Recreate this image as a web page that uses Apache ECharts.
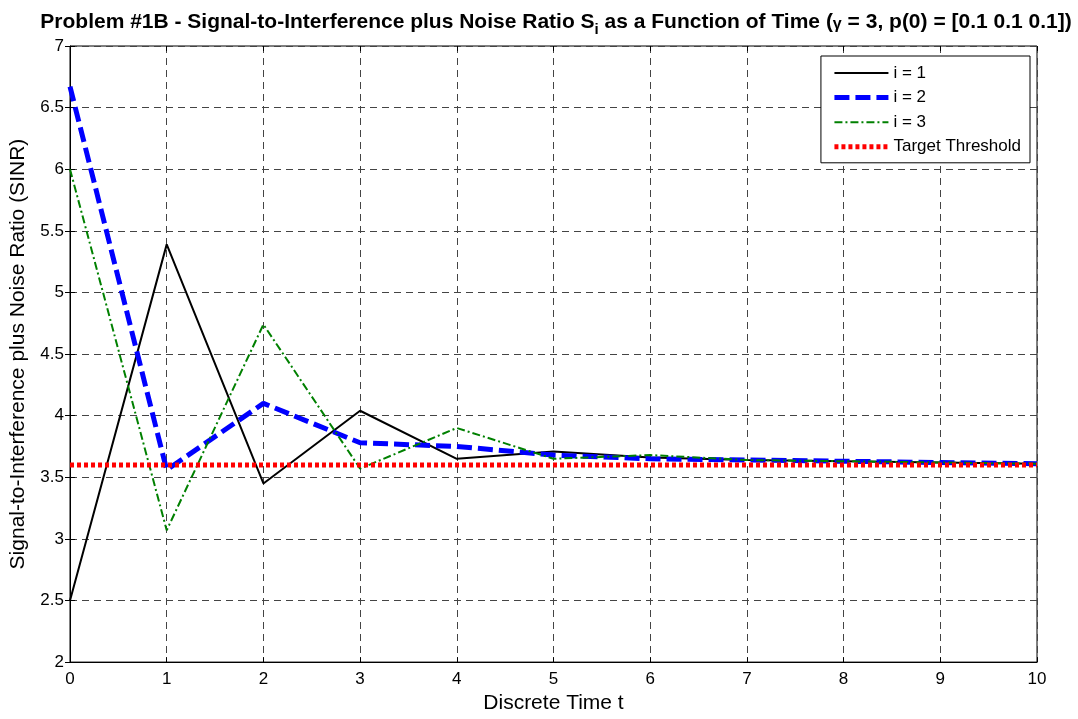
<!DOCTYPE html>
<html lang="en">
<head>
  <meta charset="UTF-8">
  <script src="https://cdn.jsdelivr.net/npm/echarts@6.0.0/dist/echarts.min.js"></script>
  <style>
    html, body { margin: 0; padding: 0; background: #fff; }
  </style>
</head>
<body>
  <div id="sinrChart" style="width: 1078px;height:719px;"></div>

  <script type="text/javascript">

    var times = [0, 1, 2, 3, 4, 5, 6, 7, 8, 9, 10];
    var sinr1 = [2.5, 5.39, 3.45, 4.04, 3.65, 3.71, 3.66, 3.64, 3.63, 3.62, 3.61];
    var sinr2 = [6.67, 3.56, 4.10, 3.78, 3.75, 3.68, 3.65, 3.64, 3.63, 3.62, 3.61];
    var sinr3 = [6.0, 3.07, 4.74, 3.57, 3.90, 3.65, 3.68, 3.64, 3.63, 3.62, 3.61];
    var threshold = [3.6, 3.6, 3.6, 3.6, 3.6, 3.6, 3.6, 3.6, 3.6, 3.6, 3.6];
    var seriesNames = ['i = 1', 'i = 2', 'i = 3', 'Target Threshold'];

    function pairs(values) {
      return values.map(function (v, k) { return [times[k], v]; });
    }

    var font = '"Liberation Sans", Arial, sans-serif';

    // line looks, shared by the series and their legend samples
    var looks = [
      { color: '#000', width: 2, type: 'solid' },
      { color: '#0000ff', width: 5, type: [15, 6] },
      { color: '#008000', width: 2, type: [8, 3, 2, 3] },
      { color: '#ff0000', width: 5, type: [4, 3] }
    ];

    function createSinrChart() {
      const chart = echarts.init(document.getElementById('sinrChart'));

      const hiddenAxis = {
        axisLine: { show: false },
        axisLabel: { show: false },
        splitLine: { show: false },
        axisTick: { show: true, inside: true, length: 5, lineStyle: { color: '#000' } }
      };

      let option = {
        backgroundColor: '#fff',
        animation: false,
        title: {
          text: 'Problem #1B - Signal-to-Interference plus Noise Ratio S{sub|i} as a Function of Time ({g|γ} = 3, p(0) = [0.1 0.1 0.1])',
          left: 551,
          textAlign: 'center',
          top: 3,
          textStyle: {
            fontFamily: font,
            fontWeight: 'bold',
            fontSize: 21,
            color: '#000',
            rich: {
              sub: { fontFamily: font, fontWeight: 'bold', fontSize: 15, color: '#000', padding: [14, 0, 0, 0] },
              g: { fontFamily: font, fontWeight: 'bold', fontSize: 16, color: '#000', padding: [4, 0, 0, 0] }
            }
          }
        },
        grid: {
          left: 70, right: 41, top: 46, bottom: 54,
          show: true,
          borderColor: '#000',
          borderWidth: 1
        },
        legend: {
          right: 48,
          top: 56,
          orient: 'vertical',
          align: 'left',
          backgroundColor: '#fff',
          borderColor: '#000',
          borderWidth: 1,
          padding: [8, 9, 7, 11],
          itemWidth: 54,
          itemHeight: 14,
          itemGap: 6.6,
          itemStyle: { opacity: 0 },
          textStyle: { fontFamily: font, fontSize: 17, lineHeight: 18, color: '#000' },
          data: seriesNames.map(function (n, k) {
            return { name: n, lineStyle: { width: looks[k].width, type: looks[k].type, color: looks[k].color } };
          })
        },
        xAxis: [{
          type: 'value',
          min: 0, max: 10, interval: 1,
          name: 'Discrete Time t',
          nameLocation: 'middle',
          nameGap: 30,
          nameTextStyle: { fontFamily: font, fontSize: 21, color: '#000' },
          axisLine: { show: true, lineStyle: { color: '#000' } },
          axisTick: { inside: true, length: 5, lineStyle: { color: '#000' } },
          axisLabel: { fontFamily: font, fontSize: 17, color: '#000', margin: 9 },
          splitLine: { show: true, lineStyle: { color: '#444', type: [7, 5], width: 1 } }
        }, Object.assign({ type: 'value', position: 'top', min: 0, max: 10, interval: 1 }, hiddenAxis)],
        yAxis: [{
          type: 'value',
          min: 2, max: 7, interval: 0.5,
          name: 'Signal-to-Interference plus Noise Ratio (SINR)',
          nameLocation: 'middle',
          nameGap: 41,
          nameTextStyle: { fontFamily: font, fontSize: 21, color: '#000' },
          axisLine: { show: true, lineStyle: { color: '#000' } },
          axisTick: { inside: true, length: 5, lineStyle: { color: '#000' } },
          axisLabel: { fontFamily: font, fontSize: 17, color: '#000', margin: 6 },
          splitLine: { show: true, lineStyle: { color: '#444', type: [7, 5], width: 1 } }
        }, Object.assign({ type: 'value', position: 'right', min: 2, max: 7, interval: 0.5 }, hiddenAxis)],
        series: [sinr1, sinr2, sinr3, threshold].map(function (values, k) {
          return {
            name: seriesNames[k], type: 'line', symbol: 'none', data: pairs(values),
            lineStyle: looks[k],
            itemStyle: { color: looks[k].color }
          };
        })
      };

      chart.setOption(option);
    }
    createSinrChart();
  </script>
</body>
</html>
